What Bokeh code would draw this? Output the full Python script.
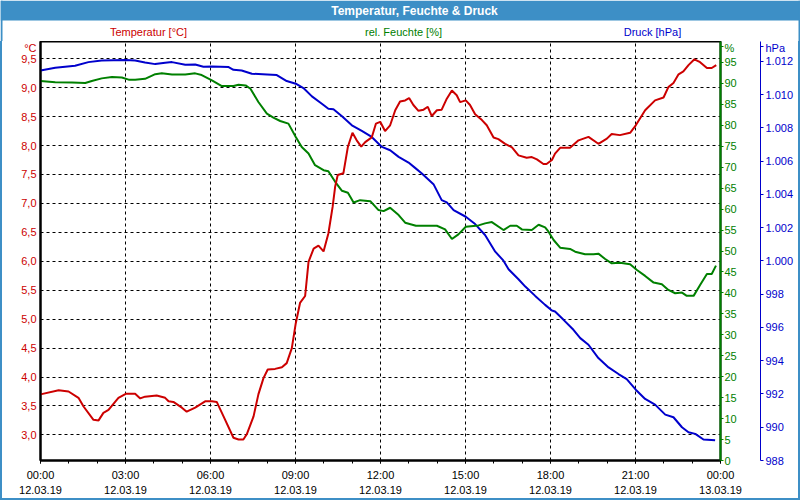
from bokeh.plotting import figure
from bokeh.models import Range1d, LinearAxis, FixedTicker, Div
from bokeh.layouts import column, row
from bokeh.core.properties import value
from bokeh.embed import file_html
from bokeh.resources import INLINE

# ---------------- data ----------------
title_text = "Temperatur, Feuchte & Druck"
series_names = ["Temperatur [°C]", "rel. Feuchte [%]", "Druck [hPa]"]
unit_names = ["°C", "%", "hPa"]

t_temp = [0.0, 0.64, 0.99, 1.34, 1.52, 1.87, 2.05, 2.22, 2.40, 2.75, 3.01, 3.34, 3.52, 3.69, 4.10, 4.40,
          4.52, 4.69, 4.99, 5.16, 5.46, 5.81, 6.05,
          6.22, 6.46, 6.81, 6.99, 7.16, 7.28, 7.52, 7.69, 7.87, 8.02, 8.28, 8.52, 8.69, 8.87, 9.01, 9.16,
          9.34, 9.46, 9.64, 9.81, 9.99, 10.16, 10.31, 10.40, 10.49, 10.69, 10.85, 11.01, 11.16, 11.32,
          11.46, 11.69, 11.84, 11.99,
          12.16, 12.34, 12.52, 12.69, 12.87, 13.01, 13.16, 13.34, 13.52, 13.67, 13.81, 13.99, 14.16, 14.34,
          14.52, 14.69, 14.81, 15.01, 15.16, 15.34, 15.58, 15.75, 15.99, 16.16, 16.40, 16.64, 16.87, 17.16,
          17.34, 17.52, 17.75, 17.86,
          18.05, 18.16, 18.34, 18.69, 18.99, 19.34, 19.69, 19.99, 20.16, 20.45, 20.81, 21.01, 21.34, 21.69,
          21.99, 22.16, 22.34, 22.52, 22.69, 22.87, 23.08, 23.28, 23.52, 23.69, 23.85]
temperature = [3.70, 3.77, 3.75, 3.64, 3.49, 3.26, 3.25, 3.38, 3.43, 3.64, 3.71, 3.71, 3.63, 3.66, 3.68, 3.64,
               3.58, 3.57, 3.47, 3.40, 3.47, 3.58, 3.58,
               3.57, 3.32, 2.95, 2.92, 2.92, 3.01, 3.32, 3.70, 3.98, 4.13, 4.14, 4.17, 4.24, 4.50, 4.93, 5.28,
               5.40, 5.99, 6.22, 6.27, 6.17, 6.48, 6.94, 7.29, 7.49, 7.52, 7.98, 8.22, 8.09, 7.98,
               8.06, 8.14, 8.38, 8.41,
               8.25, 8.35, 8.61, 8.76, 8.78, 8.82, 8.70, 8.60, 8.62, 8.67, 8.51, 8.61, 8.62, 8.81,
               8.95, 8.87, 8.75, 8.78, 8.70, 8.54, 8.44, 8.35, 8.14, 8.11, 8.03, 7.97, 7.83, 7.79,
               7.80, 7.76, 7.68, 7.68,
               7.75, 7.86, 7.96, 7.96, 8.09, 8.15, 8.03, 8.12, 8.20, 8.18, 8.22, 8.35, 8.61, 8.78,
               8.83, 9.01, 9.08, 9.23, 9.28, 9.39, 9.49, 9.44, 9.34, 9.34, 9.39]

t_hum = [0.0, 0.52, 1.11, 1.58, 1.81, 2.16, 2.52, 2.87, 3.11, 3.34, 3.69, 4.05, 4.28, 4.64, 5.11, 5.46, 5.69,
         6.05, 6.40, 6.81, 6.99, 7.24, 7.41, 7.69, 7.99, 8.22, 8.46, 8.75, 9.01, 9.22, 9.46, 9.69, 9.99,
         10.16, 10.40, 10.64, 10.85, 11.05, 11.28, 11.64, 11.93,
         12.11, 12.34, 12.64, 12.87, 13.25, 13.99, 14.28, 14.52, 14.75, 15.01, 15.46, 15.69, 15.93, 16.34,
         16.58, 16.81, 16.99, 17.34, 17.58, 17.81, 17.93, 18.11,
         18.34, 18.69, 18.87, 19.22, 19.52, 19.69, 19.93, 20.16, 20.45, 20.81, 21.05, 21.34, 21.64, 21.93,
         22.16, 22.40, 22.64, 22.81, 23.05, 23.28, 23.52, 23.69, 23.84]
humidity = [90.56, 90.3, 90.2, 90.1, 90.56, 91.2, 91.5, 91.4, 90.9, 90.9, 91.1, 92.2, 92.4, 92.1, 92.1, 92.4, 92.0,
            90.7, 89.37, 89.37, 89.68, 89.52, 88.73, 85.56, 82.78, 81.83, 81.03, 80.4, 77.22, 74.84, 73.25, 70.48,
            69.29, 69.05, 66.51, 64.37, 63.89, 61.59, 62.14, 61.9, 59.76,
            59.52, 60.32, 58.57, 56.75, 56.03, 56.03, 55.16, 52.86, 53.97, 55.79, 56.11, 56.59, 56.9, 55.0,
            56.03, 56.03, 55.16, 55.0, 56.27, 55.63, 54.6, 52.62,
            50.79, 50.48, 49.84, 49.21, 49.21, 49.37, 48.1, 47.06, 47.22, 46.83, 45.48, 44.05, 42.46, 42.06,
            40.71, 39.92, 40.08, 39.29, 39.29, 41.9, 44.52, 44.52, 46.51]

t_pres = [0.0, 0.52, 1.22, 1.69, 2.16, 2.99, 3.34, 3.69, 4.05, 4.40, 4.64, 5.11, 5.46, 5.75, 6.05,
          6.64, 6.81, 7.10, 7.46, 8.00, 8.34, 8.69, 9.01, 9.28, 9.58, 9.93, 10.16, 10.34, 10.64, 10.99,
          11.34, 11.69, 12.05,
          12.34, 12.64, 12.99, 13.22, 13.46, 13.87, 14.16, 14.34, 14.58, 15.01, 15.34, 15.69, 16.05, 16.34,
          16.52, 16.87, 17.11, 17.46, 17.81, 18.05,
          18.16, 18.46, 18.81, 19.05, 19.34, 19.69, 20.05, 20.40, 20.69, 21.01, 21.34, 21.69, 22.05, 22.34,
          22.64, 22.87, 23.11, 23.40, 23.81]
pressure = [1011.46, 1011.62, 1011.74, 1011.96, 1012.06, 1012.08, 1012.06, 1011.94, 1011.84, 1011.92, 1011.96,
            1011.80, 1011.82, 1011.68, 1011.70,
            1011.66, 1011.50, 1011.46, 1011.26, 1011.22, 1011.18, 1010.82, 1010.66, 1010.40, 1009.90, 1009.46,
            1009.16, 1009.12, 1008.70, 1008.16, 1007.82, 1007.46, 1006.86,
            1006.66, 1006.26, 1005.92, 1005.60, 1005.26, 1004.62, 1003.66, 1003.52, 1003.06, 1002.66, 1002.22,
            1001.56, 1000.56, 1000.02, 999.50, 998.90, 998.46, 997.90, 997.36, 997.02,
            996.96, 996.46, 995.86, 995.36, 994.96, 994.16, 993.60, 993.20, 992.90, 992.26, 991.70, 991.36,
            990.76, 990.60, 990.00, 989.70, 989.60, 989.26, 989.22]

x_ticks = [0, 3, 6, 9, 12, 15, 18, 21, 24]
x_tick_labels = ["00:00\n12.03.19", "03:00\n12.03.19", "06:00\n12.03.19", "09:00\n12.03.19",
                 "12:00\n12.03.19", "15:00\n12.03.19", "18:00\n12.03.19", "21:00\n12.03.19",
                 "00:00\n13.03.19"]
x_minor_ticks = list(range(0, 25))
temp_ticks = [3.0, 3.5, 4.0, 4.5, 5.0, 5.5, 6.0, 6.5, 7.0, 7.5, 8.0, 8.5, 9.0, 9.5]
temp_tick_labels = ["3,0", "3,5", "4,0", "4,5", "5,0", "5,5", "6,0", "6,5", "7,0", "7,5", "8,0", "8,5", "9,0", "9,5"]
hum_ticks = list(range(0, 100, 5))
pres_ticks = [988, 990, 992, 994, 996, 998, 1000, 1002, 1004, 1006, 1008, 1010, 1012]
pres_tick_labels = ["988", "990", "992", "994", "996", "998", "1.000", "1.002", "1.004", "1.006", "1.008",
                    "1.010", "1.012"]

# ---------------- style ----------------
RED = "#cc0000"
GREEN = "#008000"
BLUE = "#0000cc"
BAR = "#3d8fc6"
FONT = "Liberation Sans"

W, H = 800, 500
TOP_H = 41          # title bar + series-name row
EDGE = 2            # window border width
MAIN_W = W - 2 * EDGE
MAIN_H = H - TOP_H - EDGE

# ---------------- header strip (title bar + series names) ----------------
top = figure(width=W, height=TOP_H, output_backend="svg", toolbar_location=None,
             x_range=Range1d(0, W), y_range=Range1d(TOP_H, 0),
             x_axis_type=None, y_axis_type=None, min_border=0, margin=0)
top.outline_line_color = None
top.background_fill_color = "white"
top.border_fill_color = "white"
top.grid.visible = False
top.quad(left=[0], right=[W], top=[0], bottom=[20], fill_color=BAR, line_color=None)
top.quad(left=[0, W - EDGE], right=[EDGE, W], top=[0, 0], bottom=[TOP_H, TOP_H], fill_color=BAR, line_color=None)
top.text(x=[414], y=[10.5], text=[title_text], text_color="white", text_align="center",
         text_baseline="middle", text_font=value(FONT), text_font_size=value("12px"), text_font_style="bold")
top.text(x=[148, 403, 652], y=[31, 31, 31], text=series_names, text_color=[RED, GREEN, BLUE],
         text_align="center", text_baseline="middle", text_font=value(FONT), text_font_size=value("11px"))

# ---------------- main chart ----------------
p = figure(width=MAIN_W, height=MAIN_H, output_backend="svg", toolbar_location=None,
           x_range=Range1d(0, 24), y_range=Range1d(2.557, 9.798), margin=0,
           min_border_left=40 - EDGE, min_border_right=80 - EDGE, min_border_top=0, min_border_bottom=37)
p.background_fill_color = "white"
p.border_fill_color = "white"
p.outline_line_color = "black"
p.outline_line_width = 2

p.extra_y_ranges = {"hum": Range1d(0, 100), "pres": Range1d(988, 1013.2)}

# x axis
xa = p.xaxis[0]
xa.ticker = FixedTicker(ticks=x_ticks, minor_ticks=x_minor_ticks)
xa.major_label_overrides = {k: v for k, v in zip(x_ticks, x_tick_labels)}
xa.axis_line_color = "black"
xa.axis_line_width = 2
xa.major_tick_in = 0
xa.major_tick_out = 3
xa.minor_tick_in = 0
xa.minor_tick_out = 3
xa.major_tick_line_color = "black"
xa.minor_tick_line_color = "black"
xa.major_label_standoff = 5
xa.major_label_text_font = FONT
xa.major_label_text_font_size = "11px"
xa.major_label_text_color = "black"
xa.major_label_text_line_height = 1.25

# left axis (temperature); unit shown as label at top of the axis
ya = p.yaxis[0]
ya.ticker = FixedTicker(ticks=temp_ticks + [9.72])
overrides = {k: v for k, v in zip(temp_ticks, temp_tick_labels)}
overrides[9.72] = unit_names[0]
ya.major_label_overrides = overrides
ya.axis_line_color = "black"
ya.axis_line_width = 2
ya.major_tick_in = 0
ya.major_tick_out = 0
ya.minor_tick_in = 0
ya.minor_tick_out = 0
ya.major_label_standoff = 4
ya.major_label_text_font = FONT
ya.major_label_text_font_size = "11px"
ya.major_label_text_color = RED

# humidity axis
ha = LinearAxis(y_range_name="hum", ticker=FixedTicker(ticks=hum_ticks + [98.7]))
ha.major_label_overrides = {98.7: unit_names[1]}
ha.axis_line_color = GREEN
ha.axis_line_width = 2
ha.major_tick_in = 0
ha.major_tick_out = 3
ha.minor_tick_out = 0
ha.minor_tick_in = 0
ha.major_tick_line_color = GREEN
ha.major_label_standoff = 1
ha.major_label_text_font = FONT
ha.major_label_text_font_size = "11px"
ha.major_label_text_color = GREEN
ha.axis_label = " "
ha.axis_label_standoff = 7
ha.axis_label_text_font_size = "10px"
p.add_layout(ha, "right")

# pressure axis
pa = LinearAxis(y_range_name="pres", ticker=FixedTicker(ticks=pres_ticks + [1012.9]))
po = {k: v for k, v in zip(pres_ticks, pres_tick_labels)}
po[1012.9] = unit_names[2]
pa.major_label_overrides = po
pa.axis_line_color = BLUE
pa.axis_line_width = 1
pa.major_tick_in = 0
pa.major_tick_out = 3
pa.minor_tick_out = 0
pa.minor_tick_in = 0
pa.major_tick_line_color = BLUE
pa.major_label_standoff = 2
pa.major_label_text_font = FONT
pa.major_label_text_font_size = "11px"
pa.major_label_text_color = BLUE
p.add_layout(pa, "right")

# grids
p.xgrid.grid_line_color = "black"
p.xgrid.grid_line_dash = "3 3"
p.xgrid.grid_line_width = 1
p.ygrid.ticker = FixedTicker(ticks=temp_ticks)
p.ygrid.grid_line_color = "black"
p.ygrid.grid_line_dash = "3 3"
p.ygrid.grid_line_width = 1

# series
p.line(t_pres, pressure, y_range_name="pres", line_color=BLUE, line_width=2)
p.line(t_hum, humidity, y_range_name="hum", line_color=GREEN, line_width=2)
p.line(t_temp, temperature, line_color=RED, line_width=2)

# window border pieces
left_edge = Div(width=EDGE, height=MAIN_H, margin=0, styles={"background-color": BAR})
right_edge = Div(width=EDGE, height=MAIN_H, margin=0, styles={"background-color": BAR})
bottom_edge = Div(width=W, height=EDGE, margin=0, styles={"background-color": BAR})

layout = column(top, row(left_edge, p, right_edge, spacing=0, margin=0), bottom_edge, spacing=0, margin=0)

open("out.html", "w").write(file_html(layout, INLINE))
